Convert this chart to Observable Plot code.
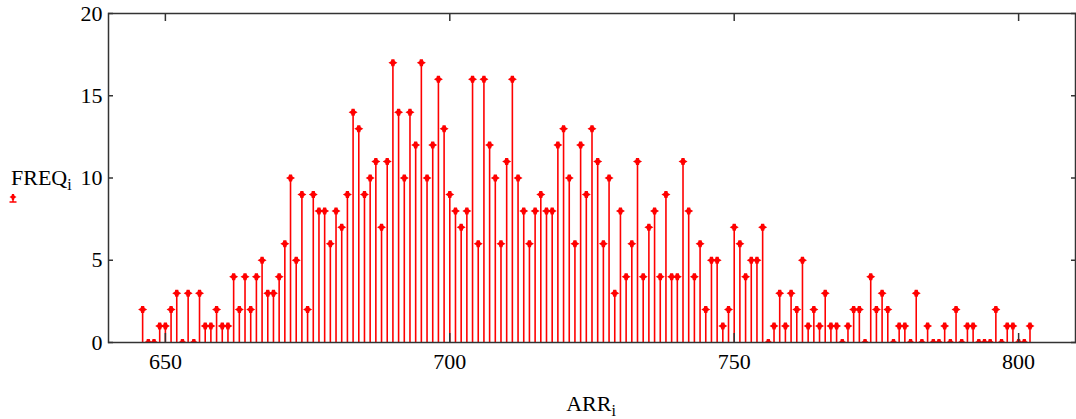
<!DOCTYPE html>
<html><head><meta charset="utf-8">
<script src="https://cdn.jsdelivr.net/npm/d3@7"></script>
<script src="https://cdn.jsdelivr.net/npm/@observablehq/plot@0.6"></script>
<style>body{margin:0;background:#fff} svg{display:block}</style>
</head><body>
<script>
const ARR = [646,647,648,649,650,651,652,653,654,655,656,657,658,659,660,661,662,663,664,665,
666,667,668,669,670,671,672,673,674,675,676,677,678,679,680,681,682,683,684,685,
686,687,688,689,690,691,692,693,694,695,696,697,698,699,700,701,702,703,704,705,
706,707,708,709,710,711,712,713,714,715,716,717,718,719,720,721,722,723,724,725,
726,727,728,729,730,731,732,733,734,735,736,737,738,739,740,741,742,743,744,745,
746,747,748,749,750,751,752,753,754,755,756,757,758,759,760,761,762,763,764,765,
766,767,768,769,770,771,772,773,774,775,776,777,778,779,780,781,782,783,784,785,
786,787,788,789,790,791,792,793,794,795,796,797,798,799,800,801,802];
const FREQ = [2,0,0,1,1,2,3,0,3,0,3,1,1,2,1,1,4,2,4,2,
4,5,3,3,4,6,10,5,9,2,9,8,8,6,8,7,9,14,13,9,
10,11,7,11,17,14,10,14,12,17,10,12,16,13,9,8,7,8,16,6,
16,12,10,6,11,16,10,8,6,8,9,8,8,12,13,10,6,12,9,13,
11,6,10,3,8,4,6,11,4,7,8,4,9,4,4,11,8,4,6,2,
5,5,1,2,7,6,4,5,5,7,0,1,3,1,3,2,5,1,2,1,
3,1,1,0,1,2,2,0,4,2,3,2,0,1,1,0,3,0,1,0,
0,1,0,2,0,1,1,0,0,0,2,0,1,1,0,0,1];
const xTicks = [650,700,750,800];
const yTicks = [0,5,10,15,20];
const xLabel = "ARR", yLabel = "FREQ", subscript = "i";

const data = ARR.map((a,i)=>({arr:a, freq:FREQ[i]}));
const red = "#ff0000";
const ink = "#333";
const font = "'Liberation Serif','Times New Roman',serif";
const marker = {draw(ctx){
  ctx.moveTo(-4.5,0); ctx.lineTo(-2,-1.5); ctx.lineTo(-1.5,-3.5); ctx.lineTo(1.5,-3.5);
  ctx.lineTo(2,-1.5); ctx.lineTo(4.5,0); ctx.lineTo(2,1.5); ctx.lineTo(1.5,3.5);
  ctx.lineTo(-1.5,3.5); ctx.lineTo(-2,1.5); ctx.closePath();
}};

const chart = Plot.plot({
  width:1076, height:419, marginLeft:108, marginRight:1, marginTop:13, marginBottom:77,
  style:{fontFamily:font, fontSize:"22px", color:"#000", background:"#fff"},
  x:{domain:[640,810]},
  y:{domain:[0,20]},
  marks:[
    Plot.ruleX(data,{x:"arr", y1:0, y2:"freq", stroke:red, strokeWidth:1.6}),
    Plot.dot(data,{x:"arr", y:"freq", symbol:marker, fill:red, stroke:"none", r:4, clip:true}),
    Plot.frame({stroke:ink, strokeWidth:1.5}),
    Plot.axisX(xTicks,{anchor:"bottom", tickSize:0, tickPadding:11, fontSize:22, label:null}),
    Plot.axisX(xTicks,{anchor:"top", tickSize:-7, tickFormat:()=>"", stroke:ink, strokeWidth:1.5, label:null}),
    Plot.axisX(xTicks,{anchor:"bottom", tickSize:-9, tickFormat:()=>"", stroke:ink, strokeWidth:1.5, label:null}),
    Plot.axisY(yTicks,{anchor:"left", tickSize:0, tickPadding:6, fontSize:22, label:null}),
    Plot.axisY(yTicks,{anchor:"left", tickSize:-5, tickFormat:()=>"", stroke:ink, strokeWidth:1.5, label:null}),
    Plot.axisY(yTicks,{anchor:"right", tickSize:-5, tickFormat:()=>"", stroke:ink, strokeWidth:1.5, label:null})
  ]
});
document.body.appendChild(chart);

const svg = d3.select(chart);
const xl = svg.append("text").attr("x",591).attr("y",411).attr("text-anchor","middle")
  .attr("font-family",font).attr("font-size",22).attr("fill","#000");
xl.append("tspan").text(xLabel);
xl.append("tspan").attr("dy",5).attr("font-size",16).text(subscript);

const yl = svg.append("text").attr("x",11).attr("y",185).attr("text-anchor","start")
  .attr("font-family",font).attr("font-size",22).attr("fill","#000");
yl.append("tspan").text(yLabel);
yl.append("tspan").attr("dy",5).attr("font-size",16).text(subscript);

const lg = svg.append("g").attr("transform","translate(13,197)");
lg.append("path").attr("d","M-3.5,0L-1.5,-1.3L-1,-3L1,-3L1.5,-1.3L3.5,0L1.5,1.3L1,3L-1,3L-1.5,1.3Z").attr("fill",red);
lg.append("path").attr("d","M0,0V5M-3.5,5H3.5").attr("stroke",red).attr("stroke-width",1.5);
</script>
</body></html>
